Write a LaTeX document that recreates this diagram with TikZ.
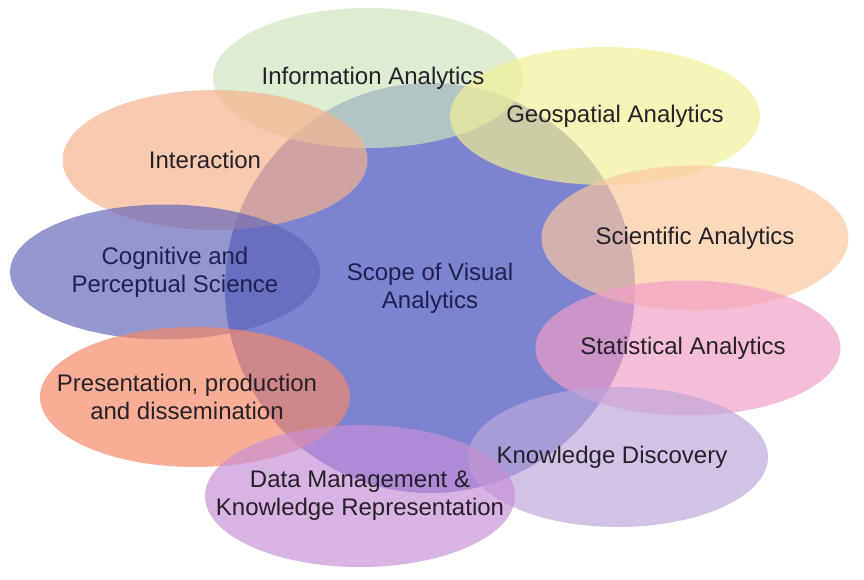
\documentclass[tikz,border=0pt]{standalone}
\usepackage{fontspec}
\setmainfont{Liberation Sans}
\usetikzlibrary{shapes.geometric}
\definecolor{scopeblue}{rgb}{0.36, 0.40, 0.78}
\definecolor{infogreen}{rgb}{0.80, 0.90, 0.74}
\definecolor{geoyellow}{rgb}{0.95, 0.94, 0.58}
\definecolor{interorange}{rgb}{0.97, 0.70, 0.55}
\definecolor{scipeach}{rgb}{0.99, 0.78, 0.62}
\definecolor{cogblue}{rgb}{0.38, 0.40, 0.72}
\definecolor{statpink}{rgb}{0.95, 0.62, 0.78}
\definecolor{presorange}{rgb}{0.97, 0.53, 0.40}
\definecolor{kdlilac}{rgb}{0.74, 0.66, 0.86}
\definecolor{datapurple}{rgb}{0.78, 0.56, 0.84}
\definecolor{labelgrey}{rgb}{0.15, 0.13, 0.16}
\definecolor{labelnavy}{rgb}{0.12, 0.12, 0.32}

\begin{document}
\begin{tikzpicture}[x=1pt, y=-1pt,
		area/.style={ellipse, draw=none, inner sep=0pt, fill opacity=0.68, minimum width=310pt, minimum height=140pt},
		txt/.style={align=center, text=labelgrey, font=\fontsize{24}{28}\selectfont}]
				\fill[white] (0,0) rectangle (864,580);
				
				% central scope
				\node[circle, draw=none, fill=scopeblue, fill opacity=0.8, minimum size=410pt] (scopecirc) at (430,288) {};
				
				% surrounding areas
				\node[area, fill=infogreen] (infoell) at (368,78) {};
				\node[area, fill=geoyellow, minimum height=138pt] (geoell) at (605,116) {};
				\node[area, fill=interorange, minimum width=305pt] (interell) at (215,160) {};
				\node[area, fill=scipeach, minimum width=307pt, minimum height=145pt] (sciell) at (695,238) {};
				\node[area, fill=cogblue, minimum height=135pt] (cogell) at (165,272) {};
				\node[area, fill=statpink, minimum width=305pt, minimum height=135pt] (statell) at (688,348) {};
				\node[area, fill=presorange] (presell) at (195,397) {};
				\node[area, fill=kdlilac, minimum width=300pt] (kdell) at (618,457) {};
				\node[area, fill=datapurple, minimum height=142pt] (dataell) at (360,496) {};
				
				% labels
				\node[txt, text=labelnavy] (scopetxt) at (scopecirc) {Scope of Visual\\Analytics};
				\node[txt] (infotxt) at ([xshift=5pt]infoell.center) {Information Analytics};
				\node[txt] (geotxt) at ([xshift=10pt]geoell.center) {Geospatial Analytics};
				\node[txt] (intertxt) at ([xshift=-10pt]interell.center) {Interaction};
				\node[txt] (scitxt) at (sciell) {Scientific Analytics};
				\node[txt, text=labelnavy] (cogtxt) at ([xshift=10pt]cogell.center) {Cognitive and\\Perceptual Science};
				\node[txt] (stattxt) at ([xshift=-5pt]statell.center) {Statistical Analytics};
				\node[txt] (prestxt) at ([xshift=-8pt]presell.center) {Presentation, production\\and dissemination};
				\node[txt] (kdtxt) at ([xshift=-6pt]kdell.center) {Knowledge Discovery};
				\node[txt] (datatxt) at (dataell) {Data Management \&\\Knowledge Representation};
				
				\end{tikzpicture}
\end{document}
